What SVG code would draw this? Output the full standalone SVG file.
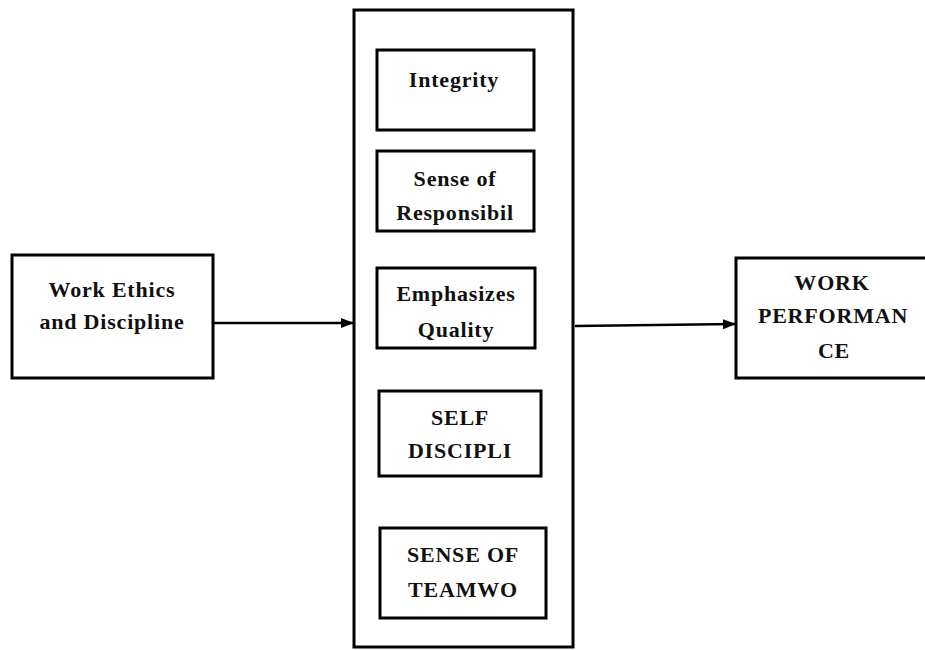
<svg xmlns="http://www.w3.org/2000/svg" width="925" height="650" viewBox="0 0 925 650">
<defs>
<marker id="arr" markerWidth="13" markerHeight="11" refX="12" refY="5.5" orient="auto" markerUnits="userSpaceOnUse">
<path d="M0,0.5 L13,5.5 L0,10.5 Z" fill="#000"/>
</marker>
<style>
.box{fill:#fff;stroke:#000;stroke-width:3}
.t{font-family:"Liberation Serif","Times New Roman",serif;font-weight:bold;font-size:22px;letter-spacing:0.8px;fill:#111;text-anchor:middle}
.c{stroke:#000;stroke-width:2.5;fill:none}
</style>
</defs>
<rect width="925" height="650" fill="#fff"/>
<g id="container">
<rect class="box" x="354" y="10" width="219" height="637"/>
</g>
<g id="work-ethics">
<rect class="box" x="12" y="255" width="201" height="123"/>
<text class="t" x="112" y="297" font-size="23">Work Ethics</text>
<text class="t" x="112" y="329" font-size="23">and Discipline</text>
</g>
<g id="integrity">
<rect class="box" x="377" y="50" width="157" height="80"/>
<text class="t" x="454" y="87">Integrity</text>
</g>
<g id="responsibility">
<rect class="box" x="377" y="151" width="157" height="80"/>
<text class="t" x="455" y="186">Sense of</text>
<text class="t" x="455" y="220">Responsibil</text>
</g>
<g id="quality">
<rect class="box" x="377" y="268" width="158" height="80"/>
<text class="t" x="456" y="301">Emphasizes</text>
<text class="t" x="456" y="337">Quality</text>
</g>
<g id="self-discipline">
<rect class="box" x="379" y="391" width="162" height="85"/>
<text class="t" x="460" y="425">SELF</text>
<text class="t" x="460" y="458">DISCIPLI</text>
</g>
<g id="teamwork">
<rect class="box" x="380" y="528" width="166" height="90"/>
<text class="t" x="463" y="562">SENSE OF</text>
<text class="t" x="463" y="597">TEAMWO</text>
</g>
<g id="work-performance">
<rect class="box" x="736" y="258" width="200" height="120"/>
<text class="t" x="832" y="290">WORK</text>
<text class="t" x="833" y="323">PERFORMAN</text>
<text class="t" x="834" y="358">CE</text>
</g>
<g id="connectors">
<line class="c" x1="214" y1="323" x2="353" y2="323" marker-end="url(#arr)"/>
<line class="c" x1="575" y1="326" x2="735" y2="324" marker-end="url(#arr)"/>
</g>
</svg>
